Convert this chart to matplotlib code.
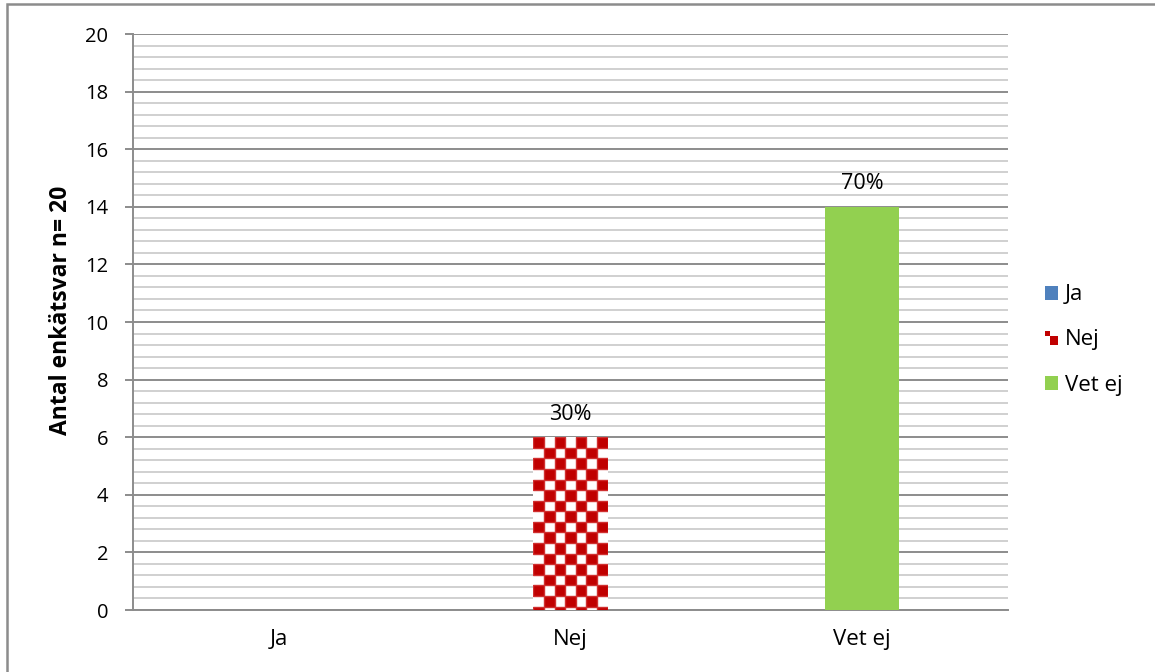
import numpy as np
import matplotlib
matplotlib.use("Agg")
import matplotlib.pyplot as plt
from matplotlib.patches import Rectangle, Patch
from matplotlib.legend_handler import HandlerPatch
from matplotlib.ticker import MultipleLocator

categories = ["Ja", "Nej", "Vet ej"]
values = [0, 6, 14]
labels = ["", "30%", "70%"]
colors = ["#4F81BD", "#C00000", "#92D050"]
ylabel = "Antal enkätsvar n= 20"

plt.rcParams["font.family"] = ["Open Sans", "DejaVu Sans"]

W, H = 1155, 672
fig = plt.figure(figsize=(W / 100, H / 100), dpi=100)
ax = fig.add_axes([133 / W, 1 - 610 / H, (1008 - 133) / W, (610 - 34) / H])

x = np.arange(len(categories))
bw = 0.254
bars = ax.bar(x, values, width=bw, color=colors, zorder=3)
bars[1].set_facecolor("white")

ax.set_xlim(-0.5, len(categories) - 0.5)
ax.set_ylim(0, 20)
ax.yaxis.set_major_locator(MultipleLocator(2))
ax.yaxis.set_minor_locator(MultipleLocator(0.4))
ax.grid(which="minor", axis="y", color="#C8C8C8", lw=1.2, zorder=0)
ax.grid(which="major", axis="y", color="#8C8C8C", lw=1.4, zorder=1)
ax.set_axisbelow(True)
for s in ["top", "right"]:
    ax.spines[s].set_visible(False)
for s in ["left", "bottom"]:
    ax.spines[s].set_color("#8C8C8C")
    ax.spines[s].set_linewidth(1.4)
ax.tick_params(axis="y", which="major", length=6, width=1.4, color="#8C8C8C",
               labelsize=14.5, pad=12)
ax.tick_params(axis="y", which="minor", length=0)
ax.tick_params(axis="x", length=0, labelsize=16, pad=14)
ax.set_xticks(x)
ax.set_xticklabels(categories)
ax.set_ylabel(ylabel, fontsize=16.5, fontweight="bold")
ax.yaxis.set_label_coords(-60 / 875, 0.52)

# Checkerboard fill for the "Nej" bar
fig.canvas.draw()
b = bars[1]
x0, x1 = b.get_x(), b.get_x() + b.get_width()
h = b.get_height()
p0 = ax.transData.transform((x0, 0))
p1 = ax.transData.transform((x1, h))
wpx, hpx = p1[0] - p0[0], p1[1] - p0[1]
ncols = 7
cell = wpx / ncols
nrows = int(np.ceil(hpx / cell))
cw = (x1 - x0) / ncols
ch = h * cell / hpx
for r in range(nrows):
    for c in range(ncols):
        if (r + c) % 2 == 0:
            rect = Rectangle((x0 + c * cw, h - (r + 1) * ch), cw, ch,
                             facecolor="#C00000", edgecolor="#D03030",
                             lw=1.0, zorder=4)
            ax.add_patch(rect)
            rect.set_clip_path(b)

for bar, lab in zip(bars, labels):
    if lab:
        ax.annotate(lab, (bar.get_x() + bar.get_width() / 2, bar.get_height()),
                    xytext=(0, 9), textcoords="offset points", ha="center",
                    va="bottom", fontsize=15.5, zorder=5)


class CheckerHandler(HandlerPatch):
    def create_artists(self, legend, orig_handle, xdescent, ydescent, width,
                       height, fontsize, trans):
        arts = []
        hw, hh = width / 2, height / 2
        for (dx, dy, w_, h_) in [(0, hh * 1.3, hw * 0.7, hh * 0.7),
                                 (hw * 0.7, 0, width - hw * 0.7, hh * 1.3)]:
            r = Rectangle((-xdescent + dx, -ydescent + dy), w_, h_,
                          facecolor="#C00000", edgecolor="none", transform=trans)
            arts.append(r)
        return arts


handles = [Patch(facecolor=c) for c in colors]
leg = fig.legend(handles, categories, loc="center left",
                 bbox_to_anchor=(1025 / W, 1 - 340 / H), frameon=False,
                 fontsize=16, handlelength=0.6, handleheight=0.6,
                 handletextpad=0.3, labelspacing=1.08,
                 handler_map={handles[1]: CheckerHandler()})

frame = Rectangle((7 / W, -0.1), 2, 1 - 4 / H + 0.1, transform=fig.transFigure,
                  fill=False, edgecolor="#8C8C8C", lw=1.8)
fig.add_artist(frame)

fig.savefig("out.png", dpi=100)
